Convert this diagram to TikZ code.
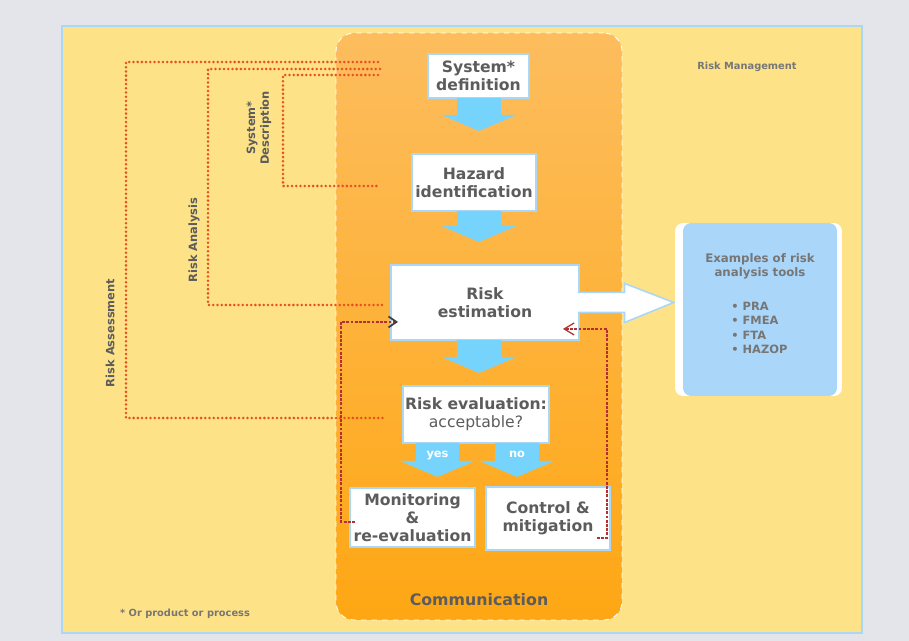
\documentclass[tikz,border=0pt]{standalone}
\usepackage{fontspec}
\setsansfont{DejaVu Sans}
\usetikzlibrary{arrows.meta, positioning, calc}

\definecolor{pagegray}{RGB}{227,229,234}
\definecolor{panelyellow}{RGB}{254,226,135}
\definecolor{edgeblue}{RGB}{170,215,246}
\definecolor{flowblue}{RGB}{118,212,252}
\definecolor{toolblue}{RGB}{170,214,250}
\definecolor{orangetop}{RGB}{253,189,94}
\definecolor{orangebot}{RGB}{254,167,20}
\definecolor{textgray}{RGB}{92,92,92}
\definecolor{softgray}{RGB}{118,118,118}
\definecolor{dotred}{RGB}{232,78,32}
\definecolor{loopred}{RGB}{178,48,48}

\begin{document}
\begin{tikzpicture}[
    x=0.02cm, y=-0.02cm,
    font=\sffamily\bfseries,
    stepbox/.style={draw=edgeblue, line width=0.9pt, fill=white, align=center, text=textgray, inner sep=1pt, outer sep=0pt, font=\sffamily\bfseries\fontsize{8.9}{10.2}\selectfont},
    flow/.style={flowblue, line width=0.87cm, -{Triangle[width=1.5cm, length=0.32cm, line width=0pt]}},
    bigarrow/.style={draw=edgeblue, line width=0.9pt, fill=white, line join=miter},
    bracket/.style={dotred, line width=1.6pt, line cap=round, dash pattern=on 0pt off 2.4pt},
    bracket_text/.style={rotate=90, align=center, text=textgray, font=\sffamily\bfseries\fontsize{6.5}{7.8}\selectfont},
    feedback/.style={loopred, line width=0.7pt, dash pattern=on 1.6pt off 0.8pt},
    small_text/.style={text=softgray, font=\sffamily\bfseries\fontsize{5.6}{6.7}\selectfont}
]

    % Background and frames
    \fill[pagegray] (0,0) rectangle (909,641);
    \useasboundingbox (0,0) rectangle (909,641);
    \node[draw=edgeblue, line width=1.4pt, fill=panelyellow, minimum width=16cm, minimum height=12.14cm] (panel) at (462,329.5) {};
    \node[draw=white, dashed, line width=0.5pt, rounded corners=0.36cm, top color=orangetop, bottom color=orangebot, minimum width=5.72cm, minimum height=11.74cm] (commbox) at (479,326.5) {};

    \node[small_text] (riskmgmt) at (747,67) {Risk Management};
    \node[small_text] (footnote) at (185,614) {* Or product or process};
    \node[text=textgray, font=\sffamily\bfseries\fontsize{9}{10.8}\selectfont] (comm) at (479,600) {Communication};

    % Brackets
    \coordinate (assess_top) at (378,62);
    \coordinate (assess_bot) at (383,418);
    \coordinate (analysis_top) at (380,69);
    \coordinate (analysis_bot) at (382,305);
    \coordinate (desc_top) at (378,75);
    \coordinate (desc_bot) at (377,186);

    \draw[bracket] (assess_top) -- ++(-252,0) |- (assess_bot);
    \draw[bracket] (analysis_top) -- ++(-172,0) |- (analysis_bot);
    \draw[bracket] (desc_top) -- ++(-95,0) |- (desc_bot);

    \node[bracket_text] (assess_label) at (110,333) {Risk Assessment};
    \node[bracket_text] (analysis_label) at (194,240) {Risk Analysis};
    \node[bracket_text] (desc_label) at (259,128) {System*\\Description};

    % Steps
    \node[stepbox, minimum width=2.02cm, minimum height=0.88cm] (sysdef) at (478.5,76) {System*\\definition};
    \node[stepbox, minimum width=2.48cm, minimum height=1.14cm, below=1.12cm of sysdef, xshift=-0.09cm] (hazard) {Hazard\\identification};
    \node[stepbox, minimum width=3.76cm, minimum height=1.5cm, below=1.08cm of hazard, xshift=0.22cm] (riskest) {Risk\\estimation};
    \node[stepbox, minimum width=2.92cm, minimum height=1.14cm, below=0.92cm of riskest, xshift=-0.18cm] (riskeval) {Risk evaluation:\\{\mdseries acceptable?}};
    \node[stepbox, minimum width=2.5cm, minimum height=1.18cm, below=0.9cm of riskeval, xshift=-1.27cm] (monitor) {Monitoring\\\&\\re-evaluation};
    \node[stepbox, minimum width=2.48cm, minimum height=1.26cm, right=0.22cm of monitor, yshift=-0.02cm] (control) {Control \&\\mitigation};

    % Tools
    \node[fill=white, rounded corners=0.16cm, minimum width=3.34cm, minimum height=3.46cm] (toolsframe) at (758.5,309.5) {};
    \node[fill=toolblue, rounded corners=0.16cm, minimum width=3.08cm, minimum height=3.46cm] (tools) at (760,309.5) {};
    \node[align=center, text=softgray, font=\sffamily\bfseries\fontsize{6.7}{7.8}\selectfont] (tools_title) at (760,266) {Examples of risk\\analysis tools};
    \node[anchor=west, align=left, inner sep=0pt, text=softgray, font=\sffamily\bfseries\fontsize{6.5}{8.1}\selectfont] (tools_list) at (731,328) {• PRA\\• FMEA\\• FTA\\• HAZOP};

    % Flow arrows
    \coordinate (spine) at (479,0);
    \coordinate (yes_top) at ([xshift=-0.77cm]riskeval.south);
    \coordinate (no_top) at ([xshift=0.82cm]riskeval.south);

    \draw[flow, shorten >=0.46cm] (spine |- sysdef.south) -- (spine |- hazard.north);
    \draw[flow, shorten >=0.46cm] (spine |- hazard.south) -- (spine |- riskest.north);
    \draw[flow, shorten >=0.26cm] (spine |- riskest.south) -- (spine |- riskeval.north);
    \draw[flow, shorten >=0.22cm] (yes_top) -- node[pos=0.27, text=white, font=\sffamily\bfseries\fontsize{6.5}{7}\selectfont] {yes} (yes_top |- monitor.north);
    \draw[flow, shorten >=0.2cm] (no_top) -- node[pos=0.27, text=white, font=\sffamily\bfseries\fontsize{6.5}{7}\selectfont] {no} (no_top |- control.north);

    % Arrow to the tools
    \coordinate (headbase) at ($(riskest.east -| toolsframe.west)+(-50,0)$);
    \filldraw[bigarrow] ($(riskest.east)+(-1,-10)$) -- ($(headbase)+(0,-10)$) -- ($(headbase)+(0,-19)$)
        -- ($(riskest.east -| toolsframe.west)+(-1,0)$) -- ($(headbase)+(0,20)$) -- ($(headbase)+(0,10)$) -- ($(riskest.east)+(-1,10)$);

    % Feedback loops
    \draw[feedback, -{Straight Barb[length=0.16cm, width=0.22cm, color=darkgray, line width=1pt]}] ([xshift=0.1cm, yshift=-0.09cm]monitor.west) -- ++(-14,0) |- ([xshift=0.14cm, yshift=-0.39cm]riskest.west);
    \draw[feedback, -{Straight Barb[length=0.2cm, width=0.24cm]}] ([xshift=-0.26cm, yshift=-0.39cm]control.east) -- ++(10,0) |- ([xshift=-0.32cm, yshift=-0.53cm]riskest.east);

\end{tikzpicture}
\end{document}
